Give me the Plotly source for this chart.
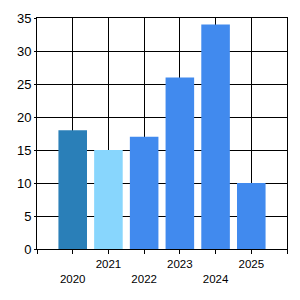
import plotly.graph_objects as go

years = ["2020", "2021", "2022", "2023", "2024", "2025"]
values = [18, 15, 17, 26, 34, 10]
colors = ["#2a7fb8", "#88d6fd", "#418aee", "#418aee", "#418aee", "#418aee"]
y_ticks = [0, 5, 10, 15, 20, 25, 30, 35]

positions = list(range(1, len(years) + 1))
tick_text = [""] + [("<br>" + y if i % 2 == 0 else y) for i, y in enumerate(years)] + [""]

fig = go.Figure(go.Bar(
    x=positions, y=values, marker_color=colors, marker_line_width=0, width=0.8,
))

fig.update_layout(
    width=300, height=300,
    margin=dict(l=37, r=13, t=18, b=51),
    plot_bgcolor="white", paper_bgcolor="white",
    showlegend=False,
    font=dict(family="Liberation Sans, Arial, sans-serif", size=12, color="black"),
)
fig.update_xaxes(
    range=[0, len(years) + 1],
    tickmode="array", tickvals=list(range(0, len(years) + 2)), ticktext=tick_text,
    showgrid=True, gridcolor="black", gridwidth=1,
    showline=True, linecolor="black", linewidth=1, mirror=True,
    ticks="outside", ticklen=4, tickcolor="black", tickangle=0,
    zeroline=False, fixedrange=True,
    tickfont=dict(size=11.5),
)
fig.update_yaxes(
    range=[0, 35],
    tickmode="array", tickvals=y_ticks,
    showgrid=True, gridcolor="black", gridwidth=1,
    showline=True, linecolor="black", linewidth=1, mirror=True,
    ticks="outside", ticklen=2, tickcolor="black",
    zeroline=False, fixedrange=True,
    tickfont=dict(size=13),
)

fig.write_html("out.html")
